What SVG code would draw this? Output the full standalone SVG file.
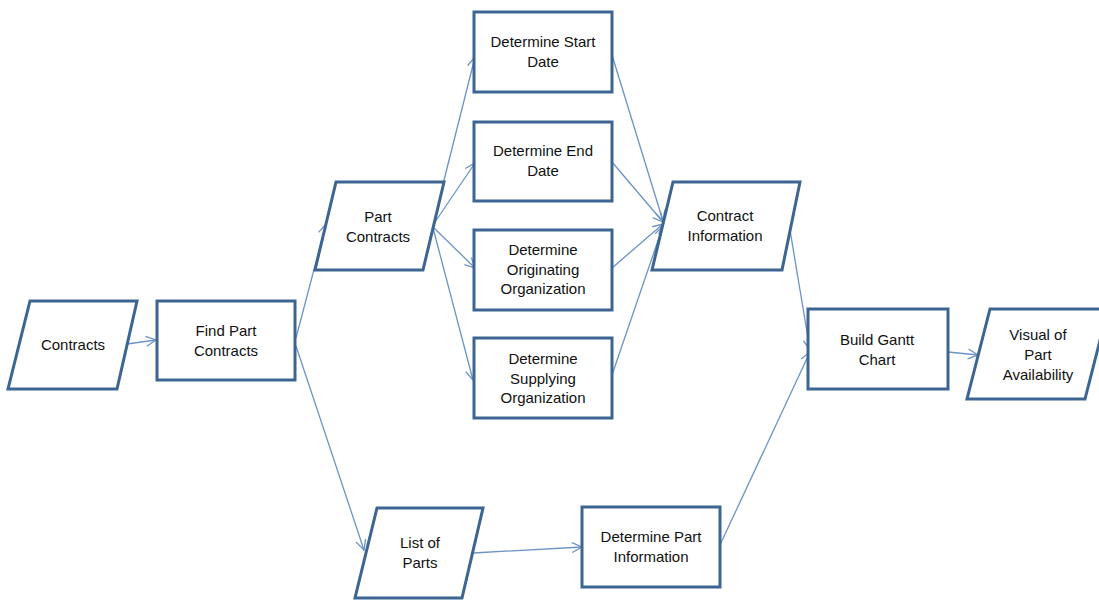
<svg xmlns="http://www.w3.org/2000/svg" width="1099" height="600" viewBox="0 0 1099 600">
<defs>
<style>
.n{fill:#fff;stroke:#3d6592;stroke-width:3;stroke-linejoin:miter}
.t{font-family:"Liberation Sans",Arial,sans-serif;font-size:15px;fill:#111;text-anchor:middle}
.c{fill:none;stroke:#6b93c6;stroke-width:1.3;marker-end:url(#a)}
</style>
<marker id="a" viewBox="0 0 12 12" refX="11" refY="6" markerWidth="12" markerHeight="12" markerUnits="userSpaceOnUse" orient="auto">
<path d="M1,1 L11,6 L1,11" fill="none" stroke="#6b93c6" stroke-width="1.3"/>
</marker>
</defs>
<rect width="1099" height="600" fill="#fff"/>
<g id="connectors">
<line class="c" x1="127" y1="344" x2="156" y2="340"/>
<line class="c" x1="296" y1="338" x2="326" y2="224"/>
<line class="c" x1="296" y1="346" x2="364" y2="550"/>
<line class="c" x1="433" y1="224" x2="475" y2="57"/>
<line class="c" x1="433" y1="225" x2="475" y2="163"/>
<line class="c" x1="433" y1="227" x2="475" y2="268"/>
<line class="c" x1="433" y1="228" x2="473" y2="380"/>
<line class="c" x1="612" y1="55" x2="663" y2="221"/>
<line class="c" x1="612" y1="162" x2="663" y2="222"/>
<line class="c" x1="612" y1="268" x2="663" y2="224"/>
<line class="c" x1="612" y1="375" x2="663" y2="226"/>
<line class="c" x1="790" y1="230" x2="810" y2="350"/>
<line class="c" x1="720" y1="545" x2="810" y2="352"/>
<line class="c" x1="948" y1="352" x2="978" y2="355"/>
<line class="c" x1="473" y1="553" x2="582" y2="547"/>
</g>
<g id="contracts">
<polygon class="n" points="30,301 137,301 117,389 8,389"/>
<text class="t" x="73" y="350">Contracts</text>
</g>
<g id="find-part-contracts">
<rect class="n" x="157" y="301" width="138" height="79"/>
<text class="t" x="226" y="336">Find Part</text>
<text class="t" x="226" y="356">Contracts</text>
</g>
<g id="part-contracts">
<polygon class="n" points="336,182 444,182 423,270 315,270"/>
<text class="t" x="378" y="222">Part</text>
<text class="t" x="378" y="242">Contracts</text>
</g>
<g id="start-date">
<rect class="n" x="474" y="12" width="138" height="80"/>
<text class="t" x="543" y="47">Determine Start</text>
<text class="t" x="543" y="67">Date</text>
</g>
<g id="end-date">
<rect class="n" x="474" y="122" width="138" height="79"/>
<text class="t" x="543" y="156">Determine End</text>
<text class="t" x="543" y="176">Date</text>
</g>
<g id="originating">
<rect class="n" x="474" y="230" width="138" height="80"/>
<text class="t" x="543" y="255">Determine</text>
<text class="t" x="543" y="275">Originating</text>
<text class="t" x="543" y="294">Organization</text>
</g>
<g id="supplying">
<rect class="n" x="474" y="338" width="138" height="80"/>
<text class="t" x="543" y="364">Determine</text>
<text class="t" x="543" y="384">Supplying</text>
<text class="t" x="543" y="403">Organization</text>
</g>
<g id="contract-information">
<polygon class="n" points="673,182 800,182 782,270 652,270"/>
<text class="t" x="725" y="221">Contract</text>
<text class="t" x="725" y="241">Information</text>
</g>
<g id="build-gantt">
<rect class="n" x="808" y="309" width="140" height="80"/>
<text class="t" x="877" y="345">Build Gantt</text>
<text class="t" x="877" y="365">Chart</text>
</g>
<g id="visual">
<polygon class="n" points="990,309 1108,309 1085,399 967,399"/>
<text class="t" x="1038" y="340">Visual of</text>
<text class="t" x="1038" y="360">Part</text>
<text class="t" x="1038" y="380">Availability</text>
</g>
<g id="list-of-parts">
<polygon class="n" points="377,508 483,508 462,598 355,598"/>
<text class="t" x="420" y="548">List of</text>
<text class="t" x="420" y="568">Parts</text>
</g>
<g id="part-information">
<rect class="n" x="582" y="507" width="138" height="80"/>
<text class="t" x="651" y="542">Determine Part</text>
<text class="t" x="651" y="562">Information</text>
</g>
</svg>
